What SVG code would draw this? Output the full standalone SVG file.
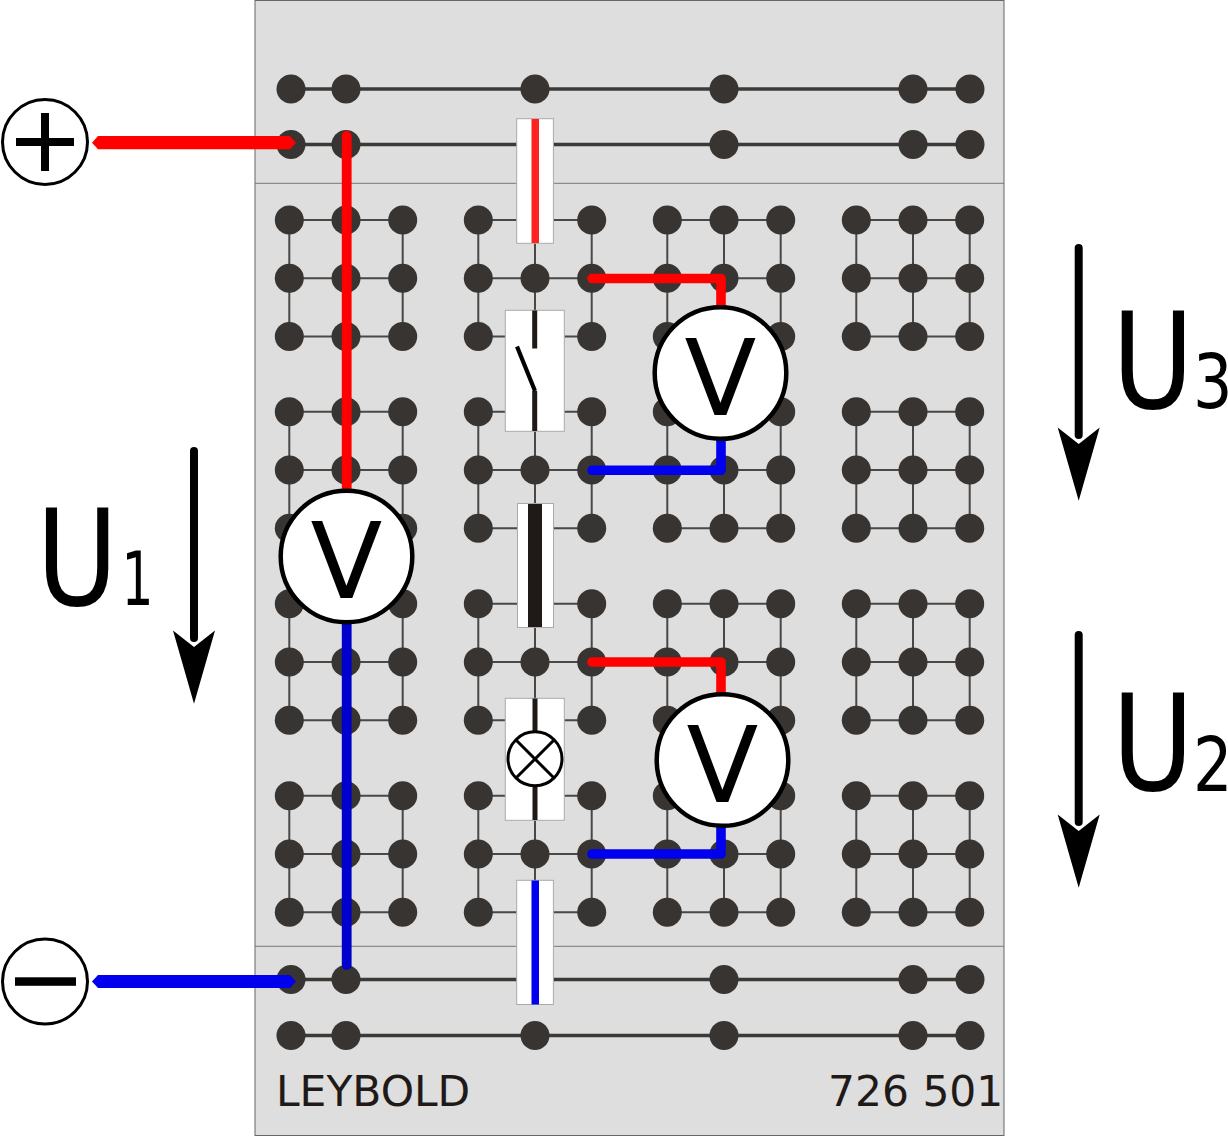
<svg xmlns="http://www.w3.org/2000/svg" xmlns:xlink="http://www.w3.org/1999/xlink" width="1228" height="1136" viewBox="0 0 1228 1136">
<style>
text{font-family:"DejaVu Sans",sans-serif}
.dot{fill:#373431}
.g{stroke:#4a4845;stroke-width:2;fill:none}
.rail{stroke:#3c3a37;stroke-width:3.4;fill:none}
.comp{fill:#fff;stroke:#aaa;stroke-width:1}
.k{stroke:#1f1a17;fill:none}
.mark{stroke:#000;stroke-width:3;fill:none}
.meter{fill:#fff;stroke:#000;stroke-width:4.5}
.term{fill:#fff;stroke:#000;stroke-width:3}
.vt{font-size:105px;text-anchor:middle;fill:#000}
.u{font-size:133px;fill:#000}
.sub{font-size:74px;fill:#000}
.lab{font-size:42.4px;fill:#1f1a17}
.w{fill:none;stroke-linecap:round;stroke-linejoin:round}
.shaft{stroke:#000;stroke-width:8;stroke-linecap:round;fill:none}
</style>
<defs>
<g id="block">
<path class="g" d="M0 0H113.4M0 58.3H113.4M0 116.6H113.4M0 0V116.6M56.7 0V116.6M113.4 0V116.6"/>
<g class="dot">
<circle r="14.5"/><circle cx="56.7" r="14.5"/><circle cx="113.4" r="14.5"/>
<circle cy="58.3" r="14.5"/><circle cx="56.7" cy="58.3" r="14.5"/><circle cx="113.4" cy="58.3" r="14.5"/>
<circle cy="116.6" r="14.5"/><circle cx="56.7" cy="116.6" r="14.5"/><circle cx="113.4" cy="116.6" r="14.5"/>
</g>
</g>
<g id="arrow">
<path class="shaft" d="M0 3V190"/>
<path d="M0 255.700L-21 182.500L0 199L21 182.500Z" fill="#000"/>
</g>
</defs>
<g id="panel">
<rect x="255" y="0.5" width="749" height="1135" fill="#dedede" stroke="#666" stroke-width="1"/>
<path d="M255 183.300H1004M255 946.300H1004" stroke="#777" stroke-width="1" fill="none"/>
</g>
<g id="rails">
<g id="rail-1"><path class="rail" d="M291 89H970"/><g class="dot"><circle cx="291" cy="89" r="14.500"/><circle cx="346" cy="89" r="14.500"/><circle cx="535" cy="89" r="14.500"/><circle cx="724" cy="89" r="14.500"/><circle cx="913" cy="89" r="14.500"/><circle cx="970" cy="89" r="14.500"/></g></g>
<g id="rail-2"><path class="rail" d="M291 144.500H970"/><g class="dot"><circle cx="291" cy="144.500" r="14.500"/><circle cx="346" cy="144.500" r="14.500"/><circle cx="724" cy="144.500" r="14.500"/><circle cx="913" cy="144.500" r="14.500"/><circle cx="970" cy="144.500" r="14.500"/></g></g>
<g id="rail-3"><path class="rail" d="M291 979.500H970"/><g class="dot"><circle cx="291" cy="979.500" r="14.500"/><circle cx="346" cy="979.500" r="14.500"/><circle cx="724" cy="979.500" r="14.500"/><circle cx="913" cy="979.500" r="14.500"/><circle cx="970" cy="979.500" r="14.500"/></g></g>
<g id="rail-4"><path class="rail" d="M291 1035.500H970"/><g class="dot"><circle cx="291" cy="1035.500" r="14.500"/><circle cx="346" cy="1035.500" r="14.500"/><circle cx="535" cy="1035.500" r="14.500"/><circle cx="724" cy="1035.500" r="14.500"/><circle cx="913" cy="1035.500" r="14.500"/><circle cx="970" cy="1035.500" r="14.500"/></g></g>
</g>
<g id="blocks">
<use href="#block" x="289.300" y="220"/><use href="#block" x="478.300" y="220"/><use href="#block" x="667.300" y="220"/><use href="#block" x="856.300" y="220"/>
<use href="#block" x="289.300" y="411.700"/><use href="#block" x="478.300" y="411.700"/><use href="#block" x="667.300" y="411.700"/><use href="#block" x="856.300" y="411.700"/>
<use href="#block" x="289.300" y="603.700"/><use href="#block" x="478.300" y="603.700"/><use href="#block" x="667.300" y="603.700"/><use href="#block" x="856.300" y="603.700"/>
<use href="#block" x="289.300" y="795.700"/><use href="#block" x="478.300" y="795.700"/><use href="#block" x="667.300" y="795.700"/><use href="#block" x="856.300" y="795.700"/>
</g>
<g id="fuse-red"><rect class="comp" x="516.700" y="118.700" width="36.700" height="124.600"/><rect x="531.500" y="119" width="7.500" height="124" fill="#ff2020"/></g>
<g id="switch"><rect class="comp" x="505.300" y="310.300" width="59" height="121"/><path class="k" stroke-width="5" d="M534.700 310.500V348.500M534.700 391V431"/><path d="M517 346.500L535 391" stroke="#000" stroke-width="4.200" fill="none"/></g>
<g id="bar"><rect class="comp" x="517.500" y="503.500" width="36" height="124"/><rect x="528" y="504" width="14" height="123" fill="#1f1a17"/></g>
<g id="lamp"><rect class="comp" x="505.300" y="698.300" width="59" height="122"/><path class="k" stroke-width="5" d="M535 698.500V735M535 782V820"/><circle cx="535" cy="758.800" r="27" fill="#fff" stroke="#000" stroke-width="3"/><path class="mark" d="M516 740L554 778M554 740L516 778"/></g>
<g id="fuse-blue"><rect class="comp" x="516.700" y="880.300" width="36.700" height="124.200"/><rect x="531.500" y="880.500" width="7.500" height="124" fill="#0000ee"/></g>
<g id="connectors">
<path fill="#f00" d="M92 142.700L98 136H290L296 142.700L290 149.300H98Z"/>
<path class="w" stroke="#f00" stroke-width="9.800" d="M346.700 136V495"/>
<path fill="#0000ee" d="M92 981.500L98 975H290L296 981.500L290 988H98Z"/>
<path class="w" stroke="#0000cc" stroke-width="9.800" d="M346.700 615V965"/>
<path class="w" stroke="#f00" stroke-width="9.600" d="M592 278.500H721V315"/>
<path class="w" stroke="#0000ee" stroke-width="9.600" d="M592 470.300H721V435"/>
<path class="w" stroke="#f00" stroke-width="9.600" d="M592 662H721V700"/>
<path class="w" stroke="#0000ee" stroke-width="9.600" d="M592 854H721V820"/>
</g>
<g id="voltmeter-1"><circle class="meter" cx="346.500" cy="556.500" r="65.800"/><text class="vt" x="346.500" y="598">V</text></g>
<g id="voltmeter-2"><circle class="meter" cx="720.500" cy="373" r="65.800"/><text class="vt" x="720.500" y="415">V</text></g>
<g id="voltmeter-3"><circle class="meter" cx="722.500" cy="760" r="65.800"/><text class="vt" x="722.500" y="802">V</text></g>
<g id="terminal-plus"><circle class="term" cx="45" cy="142" r="42.500"/><path d="M16 138H41V113H49V138H74V146H49V171H41V146H16Z" fill="#000"/></g>
<g id="terminal-minus"><circle class="term" cx="45" cy="981.500" r="42.500"/><rect x="15" y="977.300" width="61" height="8.500" fill="#000"/></g>
<g id="label-u1"><text class="u" transform="translate(36.300 605) scale(.84 1)">U</text><text class="sub" transform="translate(121.500 605) scale(.68 1)">1</text><use href="#arrow" x="194" y="448"/></g>
<g id="label-u3"><text class="u" transform="translate(1112 408) scale(.84 1)">U</text><text class="sub" transform="translate(1193 408) scale(.84 1)">3</text><use href="#arrow" x="1078.700" y="245"/></g>
<g id="label-u2"><text class="u" transform="translate(1112 790) scale(.84 1)">U</text><text class="sub" transform="translate(1193 791) scale(.84 1)">2</text><use href="#arrow" x="1078.700" y="632"/></g>
<text class="lab" x="276" y="1106">LEYBOLD</text>
<text class="lab" x="828" y="1106">726 501</text>
</svg>
